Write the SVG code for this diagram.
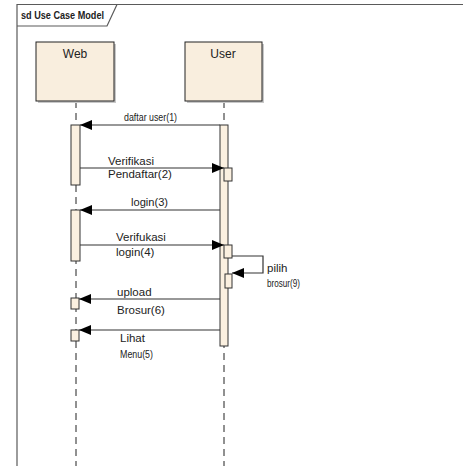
<svg xmlns="http://www.w3.org/2000/svg" width="463" height="466" viewBox="0 0 463 466">
<defs>
<style>
.frame{fill:none;stroke:#5a5a5a;stroke-width:1.2}
.box{fill:#f9eede;stroke:#222;stroke-width:1}
.shadow{fill:#c8c8c8}
.life{stroke:#222;stroke-width:1;stroke-dasharray:7 5;fill:none}
.act{fill:#fbf0e0;stroke:#333;stroke-width:1}
.msg{stroke:#333;stroke-width:1.2;fill:none;marker-end:url(#ah)}
.t{font-family:"Liberation Sans",Arial,sans-serif;fill:#222}
.n{font-size:12px;text-anchor:middle}
.l{font-size:11.5px}
.s{font-size:10px}
</style>
<marker id="ah" viewBox="0 0 12 10" refX="12" refY="5" markerWidth="12" markerHeight="10" markerUnits="userSpaceOnUse" orient="auto">
<path d="M0,0 L12,5 L0,10 z" fill="#000"/>
</marker>
</defs>
<rect width="463" height="466" fill="#fff"/>
<g id="frame">
<path class="frame" d="M17,466 V4.5 H463"/>
<path class="frame" d="M17,26 H107 L117,4.5"/>
<text class="t" x="21" y="19" font-size="11" font-weight="bold" textLength="83" lengthAdjust="spacingAndGlyphs">sd Use Case Model</text>
</g>
<g id="lifelines">
<line class="life" x1="76" y1="101" x2="76" y2="466"/>
<line class="life" x1="224" y1="101" x2="224" y2="466"/>
</g>
<g id="web">
<rect class="shadow" x="38" y="44" width="78" height="59"/>
<rect class="box" x="36" y="42" width="78" height="59"/>
<text class="t n" x="75" y="58">Web</text>
</g>
<g id="user">
<rect class="shadow" x="187" y="44" width="77" height="59"/>
<rect class="box" x="185" y="42" width="77" height="59"/>
<text class="t n" x="223" y="58">User</text>
</g>
<g id="activations">
<rect class="act" x="71" y="125" width="9" height="60"/>
<rect class="act" x="71" y="210" width="9" height="51"/>
<rect class="act" x="71" y="298" width="8" height="11"/>
<rect class="act" x="71" y="330" width="8" height="11"/>
<rect class="act" x="220" y="125" width="8" height="221"/>
<rect class="act" x="224" y="168" width="8" height="13"/>
<rect class="act" x="224" y="245" width="8" height="13"/>
<rect class="act" x="225" y="274" width="7" height="14"/>
</g>
<g id="connectors">
<line class="msg" x1="220" y1="125" x2="80" y2="125"/>
<line class="msg" x1="80" y1="168" x2="224" y2="168"/>
<line class="msg" x1="220" y1="210" x2="80" y2="210"/>
<line class="msg" x1="80" y1="245" x2="224" y2="245"/>
<path class="msg" d="M232,256 H263 V273 H232"/>
<line class="msg" x1="220" y1="299" x2="79" y2="299"/>
<line class="msg" x1="220" y1="330" x2="79" y2="330"/>
</g>
<g id="labels">
<text class="t s" x="124" y="121" textLength="53" lengthAdjust="spacingAndGlyphs">daftar user(1)</text>
<text class="t l" x="108" y="165">Verifikasi</text>
<text class="t l" x="108" y="178">Pendaftar(2)</text>
<text class="t l" x="131" y="206" textLength="37" lengthAdjust="spacingAndGlyphs">login(3)</text>
<text class="t l" x="116" y="241">Verifukasi</text>
<text class="t l" x="116" y="256">login(4)</text>
<text class="t l" x="267" y="272">pilih</text>
<text class="t s" x="267" y="287" textLength="33" lengthAdjust="spacingAndGlyphs">brosur(9)</text>
<text class="t l" x="117" y="296">upload</text>
<text class="t l" x="117" y="314">Brosur(6)</text>
<text class="t l" x="120" y="342">Lihat</text>
<text class="t s" x="120" y="358" textLength="33" lengthAdjust="spacingAndGlyphs">Menu(5)</text>
</g>
</svg>
